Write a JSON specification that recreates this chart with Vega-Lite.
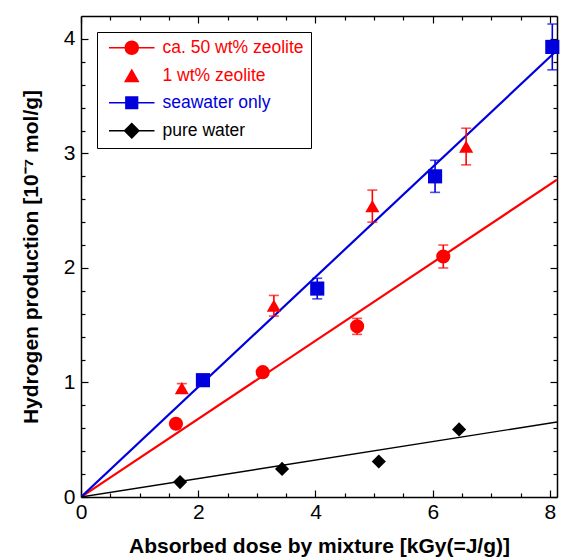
{
  "$schema": "https://vega.github.io/schema/vega-lite/v6.json",
  "width": 476,
  "height": 481,
  "autosize": {"type": "none"},
  "padding": {"left": 81, "top": 16, "right": 12, "bottom": 61},
  "background": "white",
  "config": {
    "view": {"stroke": null},
    "font": "Liberation Sans",
    "legend": {"strokeColor": "black", "fillColor": "white"},
    "axis": {
      "grid": false,
      "domainColor": "black",
      "domainWidth": 1.5,
      "tickColor": "black",
      "tickWidth": 1.2,
      "labelFont": "Liberation Sans",
      "labelFontSize": 21,
      "labelColor": "black",
      "titleFont": "Liberation Sans",
      "titleFontSize": 21,
      "titleFontWeight": "bold",
      "titleColor": "black",
      "labelOverlap": false,
      "labelFlush": false
    }
  },
  "datasets": {
    "pts": [
      {"series": "ca. 50 wt% zeolite", "x": 1.62, "y": 0.64, "err": 0},
      {"series": "ca. 50 wt% zeolite", "x": 3.1, "y": 1.09, "err": 0.03},
      {"series": "ca. 50 wt% zeolite", "x": 4.71, "y": 1.49, "err": 0.07},
      {"series": "ca. 50 wt% zeolite", "x": 6.18, "y": 2.1, "err": 0.1},
      {"series": "1 wt% zeolite", "x": 1.72, "y": 0.95, "err": 0.04},
      {"series": "1 wt% zeolite", "x": 3.29, "y": 1.67, "err": 0.09},
      {"series": "1 wt% zeolite", "x": 4.97, "y": 2.54, "err": 0.14},
      {"series": "1 wt% zeolite", "x": 6.57, "y": 3.06, "err": 0.16},
      {"series": "seawater only", "x": 2.08, "y": 1.02, "err": 0.03},
      {"series": "seawater only", "x": 4.03, "y": 1.82, "err": 0.09},
      {"series": "seawater only", "x": 6.04, "y": 2.8, "err": 0.14},
      {"series": "seawater only", "x": 8.04, "y": 3.93, "err": 0.2},
      {"series": "pure water", "x": 1.69, "y": 0.13, "err": 0},
      {"series": "pure water", "x": 3.43, "y": 0.245, "err": 0},
      {"series": "pure water", "x": 5.08, "y": 0.31, "err": 0},
      {"series": "pure water", "x": 6.45, "y": 0.59, "err": 0}
    ],
    "fits": [
      {"series": "ca. 50 wt% zeolite", "x": 0, "y": 0},
      {"series": "ca. 50 wt% zeolite", "x": 8.12, "y": 2.77},
      {"series": "seawater only", "x": 0, "y": 0},
      {"series": "seawater only", "x": 8.12, "y": 3.9},
      {"series": "pure water", "x": 0, "y": 0},
      {"series": "pure water", "x": 8.12, "y": 0.655}
    ]
  },
  "layer": [
    {
      "data": {"name": "fits"},
      "mark": {"type": "line", "clip": true},
      "encoding": {
        "x": {
          "field": "x", "type": "quantitative",
          "scale": {"domain": [0, 8.12], "nice": false, "zero": false},
          "axis": {
            "orient": "bottom",
            "title": "Absorbed dose by mixture [kGy(=J/g)]",
            "titlePadding": 10,
            "values": [0, 0.5, 1, 1.5, 2, 2.5, 3, 3.5, 4, 4.5, 5, 5.5, 6, 6.5, 7, 7.5, 8],
            "labelExpr": "datum.value % 2 === 0 ? format(datum.value, 'd') : ''",
            "tickSize": {"condition": {"test": "datum.value % 2 === 0", "value": -7}, "value": -4},
            "labelPadding": 11
          }
        },
        "y": {
          "field": "y", "type": "quantitative",
          "scale": {"domain": [0, 4.2], "nice": false, "zero": false},
          "axis": {
            "orient": "left",
            "title": "Hydrogen production [10⁻⁷ mol/g]",
            "titlePadding": 22,
            "values": [0, 0.2, 0.4, 0.6, 0.8, 1, 1.2, 1.4, 1.6, 1.8, 2, 2.2, 2.4, 2.6, 2.8, 3, 3.2, 3.4, 3.6, 3.8, 4],
            "labelExpr": "abs(datum.value - round(datum.value)) < 1e-6 ? format(datum.value, 'd') : ''",
            "tickSize": {"condition": {"test": "abs(datum.value - round(datum.value)) < 1e-6", "value": -7}, "value": -4},
            "labelPadding": 13
          }
        },
        "color": {
          "field": "series", "type": "nominal",
          "scale": {"domain": ["ca. 50 wt% zeolite", "1 wt% zeolite", "seawater only", "pure water"], "range": ["#ff0000", "#ff0000", "#0000dd", "#000000"]},
          "legend": null
        },
        "strokeWidth": {"condition": {"test": "datum.series === 'pure water'", "value": 1.4}, "value": 2.2}
      }
    },
    {
      "data": {"name": "pts"},
      "transform": [{"filter": "datum.err > 0"}],
      "mark": {"type": "errorbar", "ticks": true, "size": 10, "thickness": 1.6},
      "encoding": {
        "x": {"field": "x", "type": "quantitative", "scale": {"domain": [0, 8.12], "nice": false, "zero": false}, "axis": null},
        "y": {"field": "y", "type": "quantitative", "scale": {"domain": [0, 4.2], "nice": false, "zero": false}, "axis": null},
        "yError": {"field": "err"},
        "color": {"field": "series", "type": "nominal", "legend": null}
      }
    },
    {
      "data": {"name": "pts"},
      "mark": {"type": "point", "filled": true, "opacity": 1, "size": 200},
      "encoding": {
        "x": {
          "field": "x", "type": "quantitative",
          "scale": {"domain": [0, 8.12], "nice": false, "zero": false},
          "axis": {
            "orient": "top", "title": null, "labels": false,
            "values": [0, 0.5, 1, 1.5, 2, 2.5, 3, 3.5, 4, 4.5, 5, 5.5, 6, 6.5, 7, 7.5, 8],
            "tickSize": {"condition": {"test": "datum.value % 2 === 0", "value": -7}, "value": -4}
          }
        },
        "y": {
          "field": "y", "type": "quantitative",
          "scale": {"domain": [0, 4.2], "nice": false, "zero": false},
          "axis": {
            "orient": "right", "title": null, "labels": false,
            "values": [0, 0.2, 0.4, 0.6, 0.8, 1, 1.2, 1.4, 1.6, 1.8, 2, 2.2, 2.4, 2.6, 2.8, 3, 3.2, 3.4, 3.6, 3.8, 4],
            "tickSize": {"condition": {"test": "abs(datum.value - round(datum.value)) < 1e-6", "value": -7}, "value": -4}
          }
        },
        "shape": {
          "field": "series", "type": "nominal",
          "scale": {"domain": ["ca. 50 wt% zeolite", "1 wt% zeolite", "seawater only", "pure water"], "range": ["circle", "triangle-up", "square", "diamond"]},
          "legend": null
        },
        "color": {
          "field": "series", "type": "nominal",
          "legend": {
            "title": null,
            "orient": "top-left",
            "offset": 16,
            "padding": 7,
            "labelFont": "Liberation Sans",
            "labelFontSize": 17.5,
            "labelLimit": 400,
            "labelColor": {"expr": "datum.value === 'seawater only' ? '#0000dd' : datum.value === 'pure water' ? '#000000' : '#ff0000'"},
            "symbolType": {"expr": "datum.value === '1 wt% zeolite' ? 'triangle-up' : datum.value === 'seawater only' ? 'M-3.5,0H3.5M-0.9,-0.9H0.9V0.9H-0.9Z' : datum.value === 'pure water' ? 'M-3.5,0H3.5M0,-1.1L1.1,0L0,1.1L-1.1,0Z' : 'M-3.5,0H3.5M1,0A1,1,0,1,1,-1,0A1,1,0,1,1,1,0Z'"},
            "symbolStrokeColor": {"expr": "datum.value === 'seawater only' ? '#0000dd' : datum.value === 'pure water' ? '#000000' : '#ff0000'"},
            "symbolStrokeWidth": 1.5,
            "symbolSize": 169,
            "symbolOffset": 19,
            "labelOffset": 22,
            "rowPadding": 8
          }
        }
      }
    }
  ],
  "resolve": {"axis": {"x": "independent", "y": "independent"}, "legend": {"color": "independent"}}
}
